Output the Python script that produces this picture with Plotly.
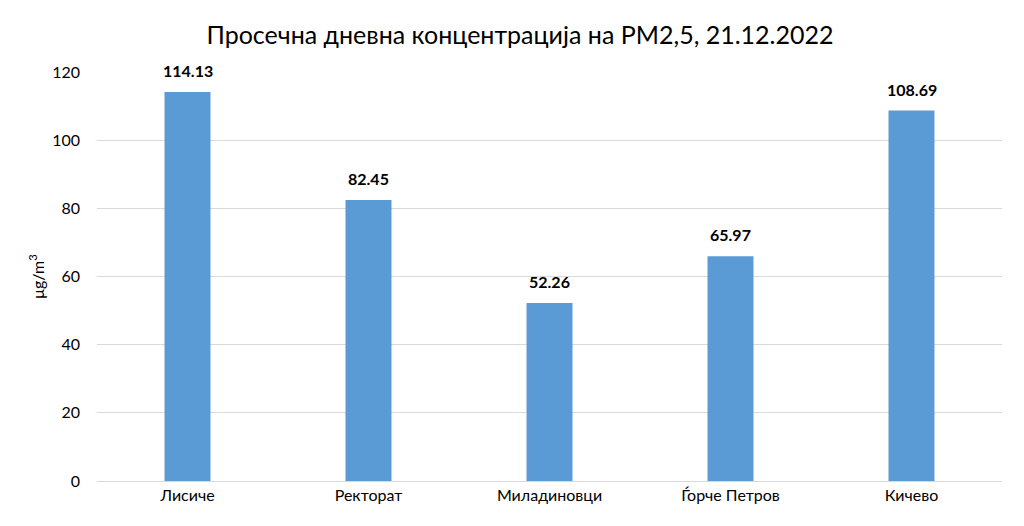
import plotly.graph_objects as go

categories = ["Лисиче", "Ректорат", "Миладиновци", "Ѓорче Петров", "Кичево"]
values = [114.13, 82.45, 52.26, 65.97, 108.69]
labels = ["114.13", "82.45", "52.26", "65.97", "108.69"]
y_ticks = [0, 20, 40, 60, 80, 100, 120]

FONT = "Lato, 'Open Sans', sans-serif"

fig = go.Figure()
fig.add_trace(go.Bar(
    x=categories, y=values,
    marker=dict(color="#5B9BD5", line=dict(width=0)),
    width=0.254,
    hoverinfo="x+y",
))

for c, v, t in zip(categories, values, labels):
    fig.add_annotation(x=c, y=v, text="<b>%s</b>" % t, showarrow=False,
                       yanchor="bottom", yshift=10,
                       font=dict(family=FONT, size=16, color="#000000"))

fig.update_layout(
    width=1024, height=526,
    margin=dict(l=89, r=30, t=64, b=53),
    paper_bgcolor="white", plot_bgcolor="white",
    title=dict(text="Просечна дневна концентрација на PM2,5, 21.12.2022",
               x=0.5, xanchor="center", y=0.949, yanchor="middle",
               font=dict(family=FONT, size=25, color="#000000")),
    showlegend=False,
    xaxis=dict(showline=True, linecolor="#D9D9D9", linewidth=1,
               tickfont=dict(family=FONT, size=16, color="#000000"),
               ticks="", showgrid=False),
    yaxis=dict(range=[0, 120], tickvals=y_ticks, showgrid=True,
               gridcolor="#D9D9D9", gridwidth=1, zeroline=False,
               tickfont=dict(family=FONT, size=16, color="#000000"),
               ticks="", ticklabelstandoff=16,
               title=dict(text="μg/m<sup>3</sup>", standoff=3,
                          font=dict(family=FONT, size=16, color="#000000"))),
)

fig.write_html("out.html")
